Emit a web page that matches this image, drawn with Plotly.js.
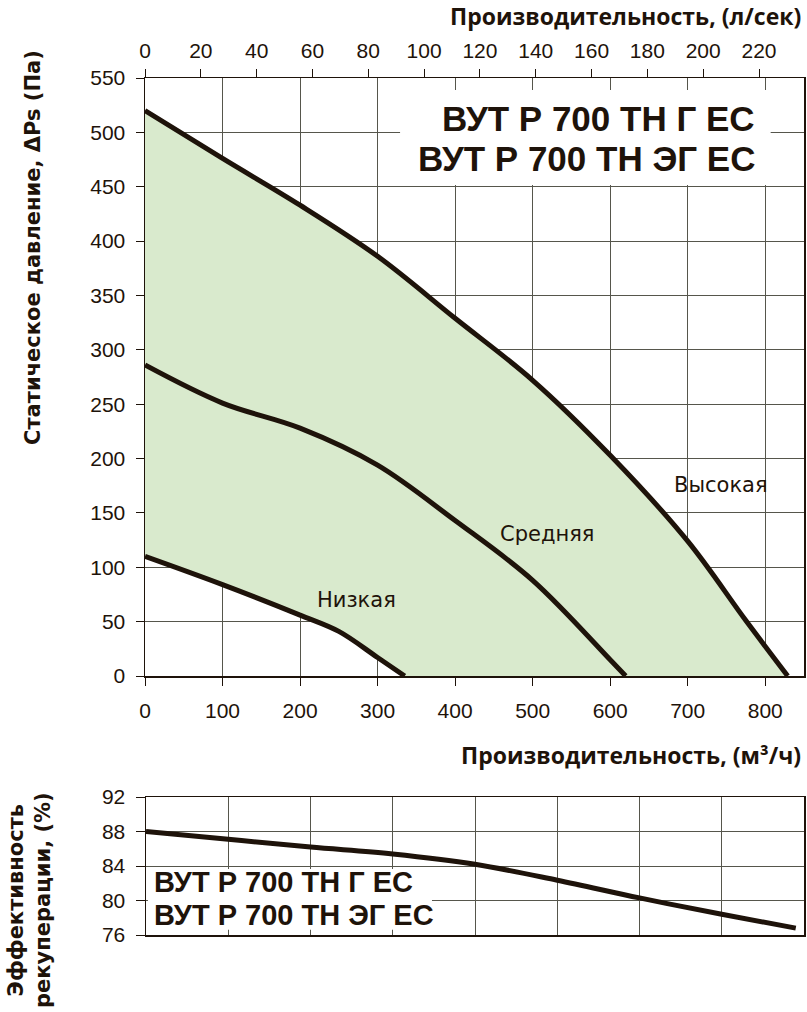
<!DOCTYPE html>
<html>
<head>
<meta charset="utf-8">
<script src="https://cdn.plot.ly/plotly-3.0.1.min.js"></script>
<style>
  html, body { margin: 0; padding: 0; background: #fff; }
</style>
</head>
<body>
<div id="chart" style="width:807px;height:1012px;"></div>
<script>
// fan curves, flow in m3/h, static pressure in Pa
var lowFlow = [0, 100, 200, 250, 300, 335];
var lowPressure = [110, 84, 56, 41, 17, 0];

var midFlow = [0, 100, 200, 300, 400, 500, 600, 620];
var midPressure = [286, 251, 228, 194, 143, 88, 15, 0];

var highFlow = [0, 100, 200, 300, 400, 500, 600, 700, 775, 829];
var highPressure = [520, 476, 433, 386, 329, 272, 203, 124, 51, 0];

var speedNames = ['Низкая', 'Средняя', 'Высокая'];

// heat recovery efficiency, %
var effFlow = [0, 100, 200, 300, 400, 500, 600, 700, 790];
var effValue = [88, 87.1, 86.2, 85.4, 84.2, 82.35, 80.3, 78.4, 76.8];

var modelNames = ['ВУТ Р 700 ТН Г ЕС', 'ВУТ Р 700 ТН ЭГ ЕС'];

var flowMax = 850;      // m3/h at right edge
var m3hPerLps = 3.6;

var ink = '#1e130a';
var grid = '#56564c';
var green = 'rgb(217,234,205)';
var W = 807, H = 1012;

function px(x) { return x / W; }
function py(y) { return 1 - y / H; }

var curveLine = {color: ink, width: 5, shape: 'spline', smoothing: 1};

var traces = [
  {x: lowFlow, y: lowPressure, mode: 'lines', line: curveLine, xaxis: 'x', yaxis: 'y', hoverinfo: 'skip'},
  {x: highFlow, y: highPressure, mode: 'lines', line: curveLine, fill: 'tonexty',
   fillcolor: green, xaxis: 'x', yaxis: 'y', hoverinfo: 'skip'},
  {x: midFlow, y: midPressure, mode: 'lines', line: curveLine, xaxis: 'x', yaxis: 'y', hoverinfo: 'skip'},
  // carries the l/s axis on top
  {x: [0, flowMax / m3hPerLps], y: [0, 0], mode: 'lines', line: {width: 0},
   xaxis: 'x2', yaxis: 'y', hoverinfo: 'skip'},
  {x: effFlow, y: effValue, mode: 'lines', line: curveLine,
   xaxis: 'x3', yaxis: 'y2', hoverinfo: 'skip'}
];

var tickFont = {family: 'Liberation Sans, Arial, sans-serif', size: 21, color: ink};
var boldTitle = {family: 'Open Sans, sans-serif', size: 23, color: ink, weight: 700};
var modelFont = {family: 'Liberation Sans, Arial, sans-serif', size: 35, color: ink, weight: 700};
var modelFontSmall = {family: 'Liberation Sans, Arial, sans-serif', size: 29, color: ink, weight: 700};
var labelFont = {family: 'DejaVu Sans, sans-serif', size: 21, color: ink};

var annotations = [
  {xref: 'x', yref: 'y', x: 273, y: 70, text: speedNames[0]},
  {xref: 'x', yref: 'y', x: 519, y: 131, text: speedNames[1]},
  {xref: 'x', yref: 'y', x: 743, y: 176, text: speedNames[2]}
].map(function (a) {
  a.showarrow = false; a.font = labelFont; return a;
});

annotations.push(
  {xref: 'x', yref: 'y', x: 789, y: 513, xanchor: 'right', yanchor: 'middle',
   text: modelNames[0], showarrow: false, font: modelFont},
  {xref: 'x', yref: 'y', x: 789, y: 476, xanchor: 'right', yanchor: 'middle',
   text: modelNames[1], showarrow: false, font: modelFont},
  {xref: 'x3', yref: 'y2', x: 7, y: 82.15, xanchor: 'left', yanchor: 'middle',
   text: modelNames[0], showarrow: false, font: modelFontSmall},
  {xref: 'x3', yref: 'y2', x: 7, y: 78.3, xanchor: 'left', yanchor: 'middle',
   text: modelNames[1], showarrow: false, font: modelFontSmall},
  {xref: 'paper', yref: 'paper', x: px(803), y: py(16), xanchor: 'right', yanchor: 'middle',
   text: 'Производительность, (л/сек)', showarrow: false, font: boldTitle},
  {xref: 'paper', yref: 'paper', x: px(803), y: py(755), xanchor: 'right', yanchor: 'middle',
   text: 'Производительность, (м³/ч)', showarrow: false, font: boldTitle},
  {xref: 'paper', yref: 'paper', x: px(33), y: py(248), xanchor: 'center', yanchor: 'middle',
   textangle: -90, text: 'Статическое давление, ΔPs (Па)', showarrow: false,
   font: {family: 'DejaVu Sans, sans-serif', size: 21, color: ink, weight: 700}},
  {xref: 'paper', yref: 'paper', x: px(29), y: py(900), xanchor: 'center', yanchor: 'middle',
   textangle: -90, text: 'Эффективность<br>рекуперации, (%)', showarrow: false,
   font: {family: 'DejaVu Sans, sans-serif', size: 21, color: ink, weight: 700}}
);

var baseAxis = {
  showgrid: true, gridcolor: grid, gridwidth: 1,
  showline: true, linecolor: ink, linewidth: 1.5, mirror: true,
  zeroline: false, tickfont: tickFont, tickcolor: ink, fixedrange: true
};

var layout = {
  width: W, height: H,
  margin: {l: 0, r: 0, t: 0, b: 0},
  paper_bgcolor: '#fff', plot_bgcolor: '#fff',
  showlegend: false,
  xaxis: Object.assign({}, baseAxis, {
    domain: [px(145), px(804)], anchor: 'y', range: [0, flowMax], dtick: 100, tick0: 0,
    ticks: 'outside', ticklen: 8, ticklabelstandoff: 7
  }),
  yaxis: Object.assign({}, baseAxis, {
    domain: [py(676), py(78)], anchor: 'x', range: [0, 550], dtick: 50, tick0: 0,
    ticks: 'outside', ticklen: 8, ticklabelstandoff: 6
  }),
  xaxis2: {
    overlaying: 'x', side: 'top', anchor: 'y', range: [0, flowMax / m3hPerLps],
    dtick: 20, tick0: 0, ticks: 'outside', ticklen: 8, tickcolor: ink,
    showgrid: false, showline: false, zeroline: false, tickfont: tickFont,
    ticklabelstandoff: 3, fixedrange: true
  },
  xaxis3: Object.assign({}, baseAxis, {
    domain: [px(146), px(804)], anchor: 'y2', range: [0, 800], dtick: 100, tick0: 0,
    showticklabels: false, ticks: ''
  }),
  yaxis2: Object.assign({}, baseAxis, {
    domain: [py(935), py(797)], anchor: 'x3', range: [76, 92], dtick: 4, tick0: 76,
    ticks: 'outside', ticklen: 9, ticklabelstandoff: 6
  }),
  shapes: [
    {type: 'rect', xref: 'x', yref: 'y', x0: 329, x1: 807, y0: 451.6, y1: 539,
     fillcolor: '#fff', line: {width: 0}, layer: 'between'},
    {type: 'rect', xref: 'x3', yref: 'y2', x0: 2.4, x1: 347.7, y0: 76.6, y1: 83.65,
     fillcolor: '#fff', line: {width: 0}, layer: 'between'}
  ],
  annotations: annotations
};

Plotly.newPlot('chart', traces, layout, {displayModeBar: false, staticPlot: true});
</script>
</body>
</html>
